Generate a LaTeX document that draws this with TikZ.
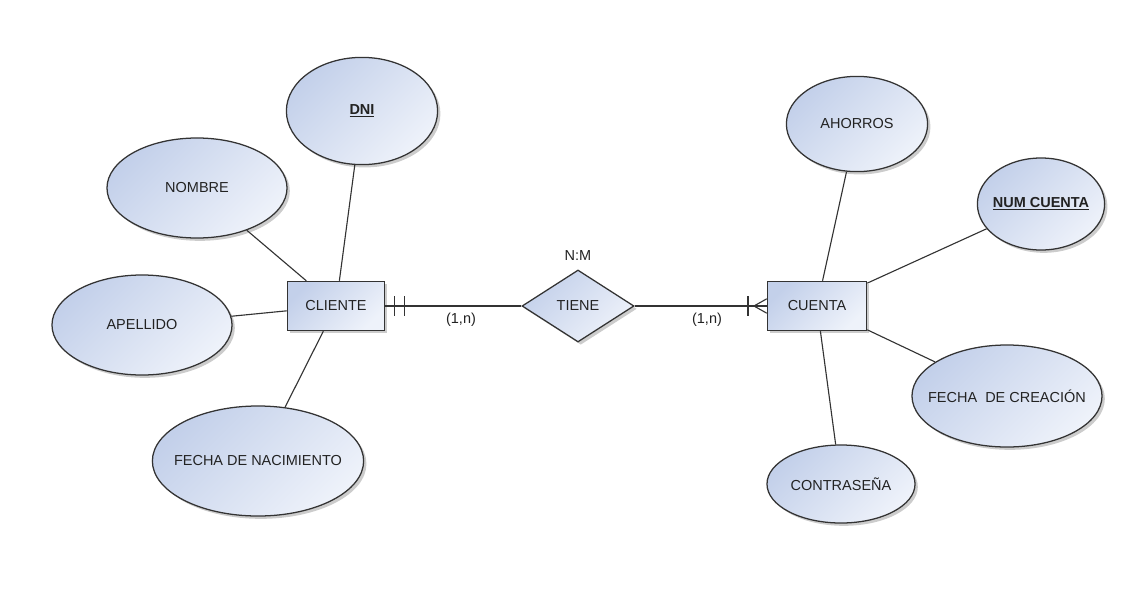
\documentclass[tikz,border=0pt]{standalone}
\usepackage{fontspec}
\setmainfont{Liberation Sans}
\usetikzlibrary{shapes.geometric,shadows}
\definecolor{erdark}{HTML}{C3D0EA}
\definecolor{erlight}{HTML}{EEF2FA}
\definecolor{erline}{HTML}{333333}
\definecolor{ertext}{HTML}{222222}
\begin{document}
\begin{tikzpicture}[
  x=0.025cm, y=-0.025cm,
  every node/.style = {font=\fontsize{10.3}{12}\selectfont, text=ertext},
  erfill/.style = {draw=erline, line width=0.9pt, top color=erdark,
    bottom color=erlight, shading angle=45,
    drop shadow={shadow xshift=2pt, shadow yshift=-2pt, opacity=0.2, fill=black}},
  attr/.style = {erfill, ellipse, inner ysep=0pt, inner xsep=-0.35cm},
  entity/.style = {erfill, rectangle, inner sep=0pt,
    minimum height=1.23cm},
  rel/.style = {erfill, diamond, inner sep=0pt, aspect=1.55},
  lbl/.style = {inner sep=1pt},
  link/.style = {draw=erline, line width=0.8pt},
  tick/.style = {draw=erline, line width=1pt}
  ]
  % entidades y relacion
  \node[entity, minimum width=2.43cm] (cliente) at (336,306) {CLIENTE};
  \node[entity, minimum width=2.48cm] (cuenta) at (817,306) {CUENTA};
  \node[rel, minimum width=2.8cm, minimum height=1.8cm] (tiene) at (578,306) {TIENE};
  \node[lbl] (nm) at (578,256) {N:M};
  \node[lbl] (cardcli) at (461,320) {(1,n)};
  \node[lbl] (cardcta) at (707,320) {(1,n)};

  % atributos de cliente
  \node[attr, minimum width=3.78cm, minimum height=2.68cm] (dni) at (362,111)
    {\underline{\textbf{DNI}}};
  \node[attr, minimum width=4.5cm, minimum height=2.5cm] (nombre) at (197,188) {NOMBRE};
  \node[attr, minimum width=4.5cm, minimum height=2.5cm] (apellido) at (142,325) {APELLIDO};
  \node[attr, minimum width=5.28cm, minimum height=2.75cm] (fechanac) at (258,461)
    {FECHA DE NACIMIENTO};

  % atributos de cuenta
  \node[attr, minimum width=3.53cm, minimum height=2.38cm] (ahorros) at (857,124) {AHORROS};
  \node[attr, minimum width=3.18cm, minimum height=2.3cm] (numcuenta) at (1041,204)
    {\underline{\textbf{NUM CUENTA}}};
  \node[attr, minimum width=4.75cm, minimum height=2.55cm] (fechacrea) at (1007,396)
    {FECHA\ \ DE CREACIÓN};
  \node[attr, minimum width=3.7cm, minimum height=1.95cm] (contrasena) at (841,484)
    {CONTRASEÑA};

  % conexiones
  \draw[link] (cliente) -- (dni);
  \draw[link] (cliente) -- (nombre);
  \draw[link] (cliente) -- (apellido);
  \draw[link] (cliente) -- (fechanac);
  \draw[link] (cuenta) -- (ahorros);
  \draw[link] (cuenta) -- (numcuenta);
  \draw[link] (cuenta) -- (fechacrea);
  \draw[link] (cuenta) -- (contrasena);

  \draw[link] (cliente.east) -- (tiene.west);
  \draw[tick] ([xshift=0.225cm, yshift=0.25cm]cliente.east) -- ++(0,20);
  \draw[tick] ([xshift=0.475cm, yshift=0.25cm]cliente.east) -- ++(0,20);

  \draw[link] (tiene.east) -- (cuenta.west);
  \draw[tick] ([xshift=-0.47cm, yshift=0.25cm]cuenta.west) -- ++(0,20);
  \draw[link] ([yshift=0.18cm]cuenta.west) -- ([xshift=-0.32cm]cuenta.west)
    -- ([yshift=-0.18cm]cuenta.west);

  \useasboundingbox (0,0) rectangle (1142,605);
\end{tikzpicture}
\end{document}
